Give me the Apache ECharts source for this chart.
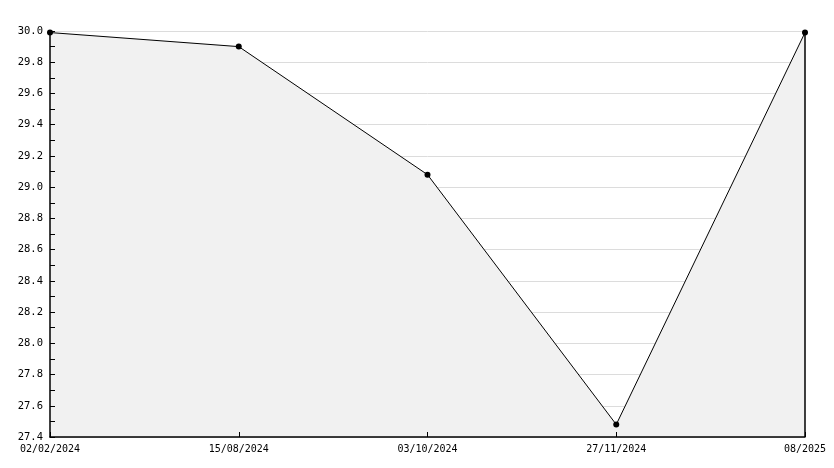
<!DOCTYPE html>
<html>
<head>
<meta charset="utf-8">
<script src="https://cdn.jsdelivr.net/npm/echarts@6/dist/echarts.min.js"></script>
<style>html,body{margin:0;padding:0;background:#fff}#c{width:834px;height:468px}</style>
</head>
<body>
<div id="c"></div>
<script>
const categories = ['02/02/2024', '15/08/2024', '03/10/2024', '27/11/2024', '08/2025'];
const values = [29.99, 29.90, 29.08, 27.48, 29.99];
const yMin = 27.4, yMax = 30.0, yStep = 0.2;

const chart = echarts.init(document.getElementById('c'), null, {renderer: 'canvas'});
const font = 'DejaVu Sans Mono';
chart.setOption({
  animation: false,
  backgroundColor: '#ffffff',
  grid: {left: 50, right: 29, top: 31, bottom: 31, containLabel: false},
  xAxis: {
    type: 'category',
    data: categories,
    boundaryGap: false,
    z: 10,
    axisLine: {show: true, lineStyle: {color: '#000', width: 1.5}},
    axisTick: {show: true, inside: true, length: 5, lineStyle: {color: '#000'}},
    axisLabel: {color: '#000', fontFamily: font, fontSize: 10, margin: 7, interval: 0},
    splitLine: {show: false}
  },
  yAxis: [{
    type: 'value',
    min: yMin, max: yMax, interval: yStep,
    z: 0,
    axisLine: {show: false},
    axisTick: {show: false},
    axisLabel: {show: false},
    splitLine: {show: true, lineStyle: {color: '#dcdcdc', width: 1}}
  }, {
    type: 'value',
    position: 'left',
    min: yMin, max: yMax, interval: yStep,
    z: 10,
    axisLine: {show: true, lineStyle: {color: '#000', width: 1.5}},
    axisTick: {show: true, inside: true, length: 5, lineStyle: {color: '#000'}},
    minorTick: {show: true, splitNumber: 2, length: 5, lineStyle: {color: '#000'}},
    axisLabel: {color: '#000', fontFamily: font, fontSize: 10.5, margin: 7,
      formatter: v => v.toFixed(1)},
    splitLine: {show: false}
  }],
  series: [{
    type: 'line',
    data: values,
    yAxisIndex: 0,
    symbol: 'circle',
    symbolSize: 6,
    itemStyle: {color: '#000'},
    lineStyle: {color: '#000', width: 1},
    areaStyle: {color: '#f1f1f1', opacity: 1, origin: 'start'},
    markLine: {
      silent: true,
      symbol: 'none',
      label: {show: false},
      lineStyle: {color: '#000', width: 1.5, type: 'solid'},
      data: [[
        {coord: [categories.length - 1, yMin]},
        {coord: [categories.length - 1, values[values.length - 1]]}
      ]]
    }
  }]
});
</script>
</body>
</html>
